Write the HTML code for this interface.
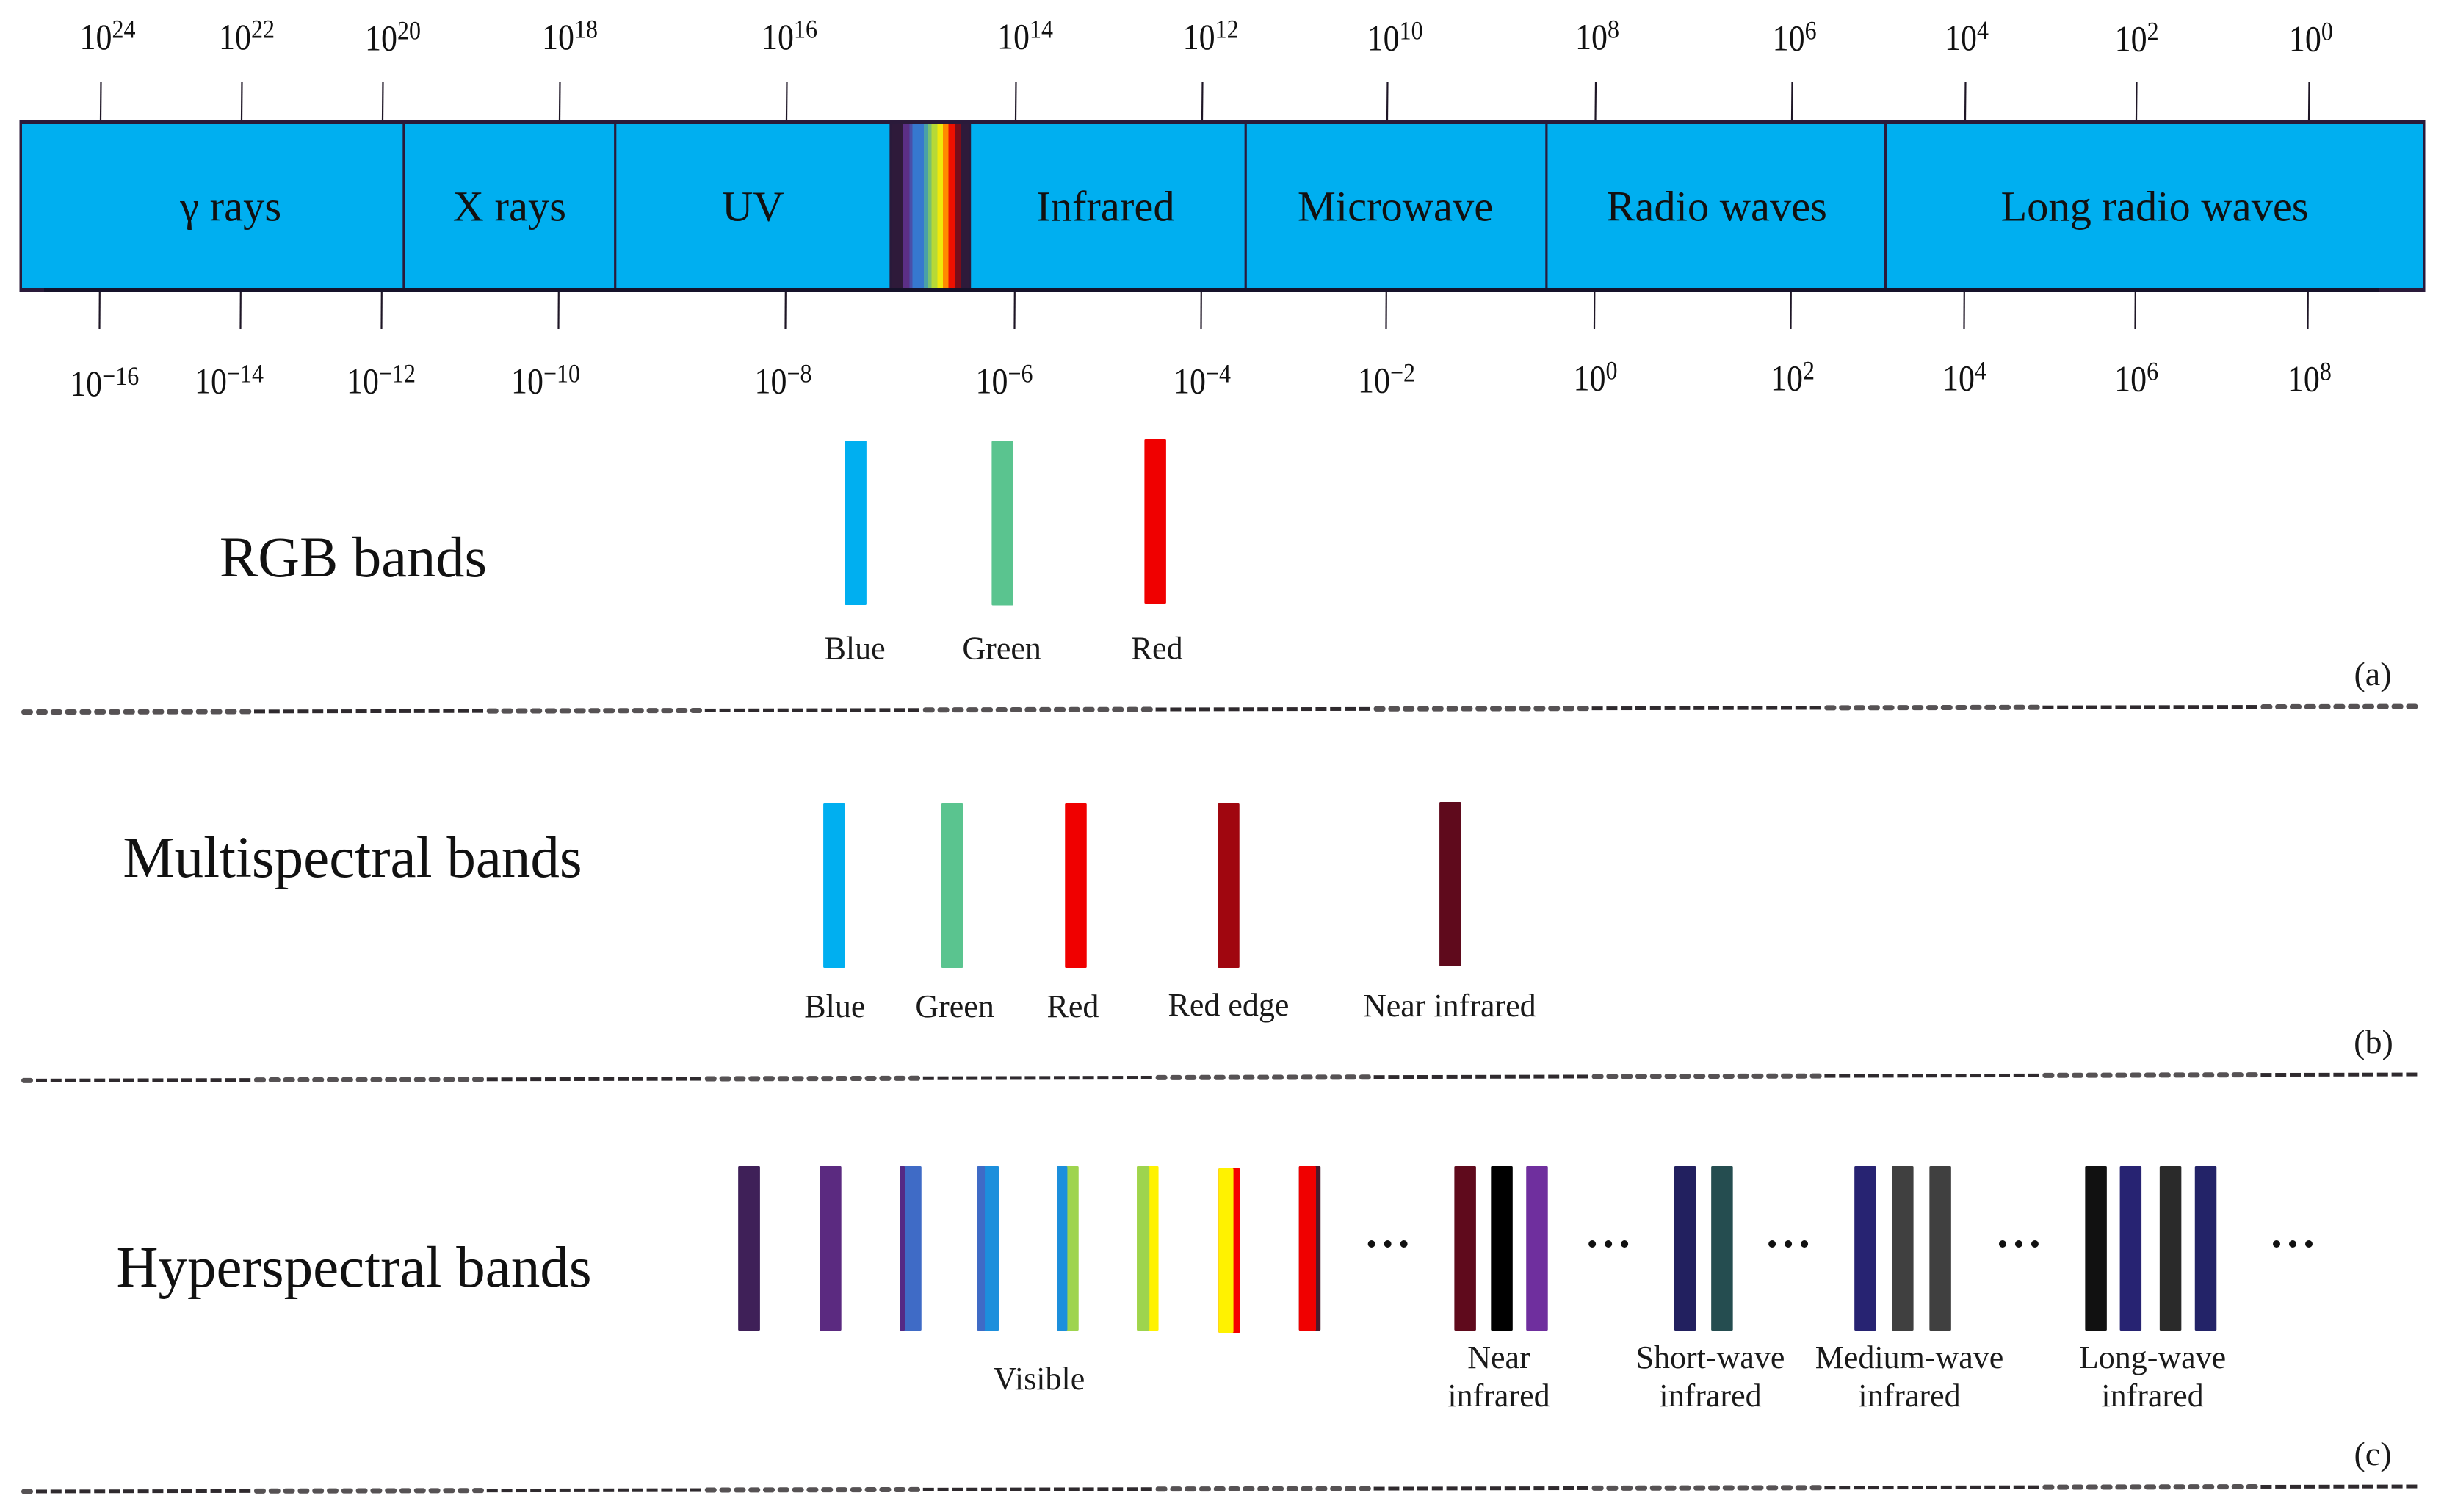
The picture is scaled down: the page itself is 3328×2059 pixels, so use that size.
<!DOCTYPE html>
<html lang="en">
<head>
<meta charset="utf-8">
<title>Electromagnetic spectrum and RGB, multispectral and hyperspectral bands</title>
<style>
  html, body { margin: 0; padding: 0; background: #fff; }
  body { width: 3328px; height: 2059px; overflow: hidden; }
  svg { display: block; }
  text { font-family: "Liberation Serif", "Noto Serif CJK SC", serif; fill: #111; }
  .title { font-size: 78.5px; text-anchor: middle; }
  .band-label { font-size: 44px; text-anchor: middle; fill: #1a1a1a; }
  .panel-tag { font-size: 46px; text-anchor: middle; fill: #1a1a1a; }
</style>
</head>
<body>
<svg id="figure" xmlns="http://www.w3.org/2000/svg" width="3328" height="2059" viewBox="0 0 3328 2059">
  <defs>
    <linearGradient id="visible-spectrum" x1="0" y1="0" x2="1" y2="0">
      <stop offset="0" stop-color="#2e1a3a"/><stop offset="0.15" stop-color="#2e1a3a"/>
      <stop offset="0.15" stop-color="#5b2f86"/><stop offset="0.227" stop-color="#5b2f86"/>
      <stop offset="0.227" stop-color="#4a4fa8"/><stop offset="0.268" stop-color="#4a4fa8"/>
      <stop offset="0.268" stop-color="#3678cf"/><stop offset="0.414" stop-color="#3678cf"/>
      <stop offset="0.414" stop-color="#4aa0a8"/><stop offset="0.464" stop-color="#4aa0a8"/>
      <stop offset="0.464" stop-color="#79c070"/><stop offset="0.517" stop-color="#79c070"/>
      <stop offset="0.517" stop-color="#b7d936"/><stop offset="0.595" stop-color="#b7d936"/>
      <stop offset="0.595" stop-color="#f0e80c"/><stop offset="0.664" stop-color="#f0e80c"/>
      <stop offset="0.664" stop-color="#ff8a00"/><stop offset="0.738" stop-color="#ff8a00"/>
      <stop offset="0.738" stop-color="#ee1000"/><stop offset="0.829" stop-color="#ee1000"/>
      <stop offset="0.829" stop-color="#7a0d1a"/><stop offset="0.9" stop-color="#7a0d1a"/>
      <stop offset="0.9" stop-color="#2e1a3a"/><stop offset="1" stop-color="#2e1a3a"/>
    </linearGradient>
  </defs>

  <rect x="0" y="0" width="3328" height="2059" fill="#ffffff"/>

  <g id="spectrum-layer"></g>
  <g id="tick-layer"></g>
  <g id="band-layer"></g>
  <g id="divider-layer"></g>

  <text class="title" x="481" y="785">RGB bands</text>
  <text class="title" x="480" y="1194" font-size="79" style="font-size:79px">Multispectral bands</text>
  <text class="title" x="482" y="1752" style="font-size:79px">Hyperspectral bands</text>

  <text class="panel-tag" x="3231" y="933">(a)</text>
  <text class="panel-tag" x="3232" y="1434">(b)</text>
  <text class="panel-tag" x="3231" y="1995">(c)</text>

  <text class="band-label" x="1415" y="1892">Visible</text>
  <text class="band-label" x="2041" y="1863">Near</text>
  <text class="band-label" x="2041" y="1915">infrared</text>
  <text class="band-label" x="2329" y="1863">Short-wave</text>
  <text class="band-label" x="2329" y="1915">infrared</text>
  <text class="band-label" x="2600" y="1863">Medium-wave</text>
  <text class="band-label" x="2600" y="1915">infrared</text>
  <text class="band-label" x="2931" y="1863">Long-wave</text>
  <text class="band-label" x="2931" y="1915">infrared</text>
</svg>

<script>
/* ---------- data ---------- */
const regionNames = ['γ rays', 'X rays', 'UV', '', 'Infrared', 'Microwave', 'Radio waves', 'Long radio waves'];
/* region boundaries, as log10(frequency) */
const regionBoundaryExponents = [19.76, 17.51, 15.09, 14.40, 11.53, 8.47, 4.92];
const frequencyExponents = [24, 22, 20, 18, 16, 14, 12, 10, 8, 6, 4, 2, 0];
const wavelengthExponents = [-16, -14, -12, -10, -8, -6, -4, -2, 0, 2, 4, 6, 8];

/* band centres, in percent along the panel width */
const rgbBandNames = ['Blue', 'Green', 'Red'];
const rgbBandCenters = [35.01, 41.02, 47.27];
const multiBandNames = ['Blue', 'Green', 'Red', 'Red edge', 'Near infrared'];
const multiBandCenters = [34.13, 38.96, 44.02, 50.27, 59.34];

const visibleBandCenters = [30.65, 33.98, 37.26, 40.43, 43.69, 46.96, 50.30, 53.59];
const visibleBandMix = [1, 1, 0.23, 0.35, 0.48, 0.58, 0.69, 0.79];
const nearInfraredCenters = [59.95, 61.45, 62.89];
const shortWaveCenters = [68.95, 70.46];
const mediumWaveCenters = [76.32, 77.85, 79.39];
const longWaveCenters = [85.76, 87.18, 88.81, 90.25];
const ellipsisCenters = [56.78, 65.81, 73.17, 82.60, 93.81];

/* ---------- scales and layout ---------- */
const W = 3328;
const NS = 'http://www.w3.org/2000/svg';
/* non-uniform spectrum axis: log10(frequency) -> x */
const axisDomain = [24, 22, 20, 18, 16, 14, 12, 10, 8, 6, 4, 2, 0];
const axisRange = [137, 329, 521, 762, 1071, 1383, 1637, 1889, 2172.5, 2440, 2676, 2909, 3144];
function spectrumX(exp) {
  for (let i = 0; i < axisDomain.length - 1; i++) {
    if (exp <= axisDomain[i] && exp >= axisDomain[i + 1]) {
      const t = (axisDomain[i] - exp) / (axisDomain[i] - axisDomain[i + 1]);
      return axisRange[i] + t * (axisRange[i + 1] - axisRange[i]);
    }
  }
  return exp > axisDomain[0] ? axisRange[0] : axisRange[axisRange.length - 1];
}
/* frequency x wavelength = c, so wavelength ticks share the axis */
function wavelengthX(exp) { return spectrumX(8 - exp) - 1.5; }
function bandX(pct) { return pct / 100 * W; }

/* hand-placement nudges of the printed labels */
const freqLabelDx = [9.5, 7, 14, 14, 4, 13, 11.6, 10.6, 2.5, 3.6, 2, 0.6, 2.9];
const freqLabelY = [66.8, 66.8, 68.6, 66.8, 66.8, 66.4, 66.8, 68.6, 66.8, 68.6, 68, 69.6, 69.6];
const waveLabelDx = [6.7, -15.5, -0.5, -17.5, -3, -14, 1.5, 0.5, 1.5, 2.5, 0.5, 1.6, 2.4];
const waveLabelY = [539, 535.7, 535.7, 535.7, 535.7, 535.7, 535.7, 534.6, 531.4, 531.4, 531.4, 532.5, 532.5];
const regionLabelDx = [25, 0, 0, -2, -3, -1, 1, 0];

const palette = {
  blue: '#00aff0', green: '#5ac48f', red: '#f00000', redEdge: '#a0060f', nir: '#5f0a1c',
  v1: '#3f2058', v2: '#5b2a80', v3: '#552a85', indigo: '#3f6bc6', sky: '#1c8fdc',
  lime: '#9ed44e', yellow: '#fff200', vivid: '#f50000', maroon: '#4a1a2c',
  black: '#000000', purple: '#6f2f9e', navy: '#22205f', teal: '#254d50',
  navy2: '#272372', gray: '#404040', ink: '#111111', charcoal: '#2a2a2a', navy3: '#232368'
};
const rgbColors = [palette.blue, palette.green, palette.red];
const multiColors = [palette.blue, palette.green, palette.red, palette.redEdge, palette.nir];
const visibleLeft = [palette.v1, palette.v2, palette.v3, palette.indigo, palette.sky, palette.lime, palette.yellow, palette.red];
const visibleRight = [palette.v1, palette.v2, palette.indigo, palette.sky, palette.lime, palette.yellow, palette.vivid, palette.maroon];
const nirColors = [palette.nir, palette.black, palette.purple];
const swirColors = [palette.navy, palette.teal];
const mwirColors = [palette.navy2, palette.gray, palette.gray];
const lwirColors = [palette.ink, palette.navy2, palette.charcoal, palette.navy3];

const BAR_W = 29.5, BAR_H = 224;
const RGB_TOP = 600, MULTI_TOP = 1094, HYPER_TOP = 1588;

function make(tag, attrs, parent) {
  const el = document.createElementNS(NS, tag);
  for (const k in attrs) el.setAttribute(k, attrs[k]);
  parent.appendChild(el);
  return el;
}

/* ---------- spectrum bar ---------- */
const specLayer = document.getElementById('spectrum-layer');
const barLeft = 30, barRight = 3299, barTop = 169, barBottom = 392;

const frame = make('rect', { x: 26.5, y: 163.6, width: 3276, height: 233.8, fill: '#2a1a3a' }, specLayer);



const bottomEdge = make('rect', { x: 60, y: 392, width: 3180, height: 5.4, fill: '#15122a' }, specLayer);



const edges = [barLeft].concat(regionBoundaryExponents.map(spectrumX), [barRight]);
regionNames.forEach(function (name, i) {
  const x0 = edges[i] + (i === 0 ? 0 : 1.6);
  const x1 = edges[i + 1] - (i === regionNames.length - 1 ? 0 : 1.6);
  const isVisible = name === '';
  const seg = make('rect', {
    x: x0, y: barTop, width: x1 - x0, height: barBottom - barTop,
    fill: isVisible ? 'url(#visible-spectrum)' : '#00aff0'
  }, specLayer);
  
  
  if (!isVisible) {
    const label = make('text', {
      x: (x0 + x1) / 2 + regionLabelDx[i], y: 300.5, 'text-anchor': 'middle', 'font-size': 58.5
    }, specLayer);
    label.textContent = name;
    
    
  }
});

/* ---------- ticks ---------- */
const tickLayer = document.getElementById('tick-layer');
function tickLabel(exp, cx, y) {
  const t = make('text', { transform: 'translate(' + cx + ' ' + y + ') scale(1 1.12)', 'text-anchor': 'middle', 'font-size': 44 }, tickLayer);
  const base = make('tspan', {}, t);
  base.textContent = '10';
  const sup = make('tspan', { 'font-size': 32, dy: -13.5 }, t);
  sup.textContent = String(exp).replace('-', '\u2212');
  return t;
}
frequencyExponents.forEach(function (exp, i) {
  const x = spectrumX(exp);
  const tick = make('line', { x1: x + 0.5, y1: 111, x2: x, y2: 164, stroke: '#1e1626', 'stroke-width': 2.2 }, tickLayer);
  
  
  const label = tickLabel(exp, x + freqLabelDx[i], freqLabelY[i]);
  
  
});
wavelengthExponents.forEach(function (exp, i) {
  const x = wavelengthX(exp);
  const tick = make('line', { x1: x + 0.3, y1: 397, x2: x, y2: 448, stroke: '#1e1626', 'stroke-width': 2.2 }, tickLayer);
  
  
  const label = tickLabel(exp, x + waveLabelDx[i], waveLabelY[i]);
  
  
});

/* ---------- bands ---------- */
const bandLayer = document.getElementById('band-layer');
function solidBand(center, top, color) {
  return make('rect', { x: bandX(center) - BAR_W / 2, y: top, width: BAR_W, height: BAR_H, rx: 1.5, fill: color }, bandLayer);
}

const rgbTopShift = [0, 0.5, -2];
const rgbLabelDx = [-1, -1, 2];
rgbBandCenters.forEach(function (c, i) {
  const bar = solidBand(c, RGB_TOP + rgbTopShift[i], rgbColors[i]);
  
  
  const label = make('text', { class: 'band-label', x: bandX(c) + rgbLabelDx[i], y: 897.5 }, bandLayer);
  label.textContent = rgbBandNames[i];
  
  
});

const multiTopShift = [0, 0, 0, 0, -2];
const multiLabelDx = [1, 3.5, -4, 0, -1];
const multiLabelY = [1385, 1385, 1385, 1383, 1384];
multiBandCenters.forEach(function (c, i) {
  const bar = solidBand(c, MULTI_TOP + multiTopShift[i], multiColors[i]);
  
  
  const label = make('text', { class: 'band-label', x: bandX(c) + multiLabelDx[i], y: multiLabelY[i] }, bandLayer);
  label.textContent = multiBandNames[i];
  
  
});

const visibleTopShift = [0, 0, 0, 0, 0, 0, 3, 0];
visibleBandCenters.forEach(function (c, i) {
  const top = HYPER_TOP + visibleTopShift[i];
  const bar = solidBand(c, top, visibleRight[i]);
  
  
  const part = make('rect', {
    x: bandX(c) - BAR_W / 2, y: top, width: BAR_W * visibleBandMix[i], height: BAR_H, rx: 1.5, fill: visibleLeft[i]
  }, bandLayer);
  
  
});
nearInfraredCenters.forEach(function (c, i) {
  const bar = solidBand(c, HYPER_TOP, nirColors[i]);
  
  
});
shortWaveCenters.forEach(function (c, i) {
  const bar = solidBand(c, HYPER_TOP, swirColors[i]);
  
  
});
mediumWaveCenters.forEach(function (c, i) {
  const bar = solidBand(c, HYPER_TOP, mwirColors[i]);
  
  
});
longWaveCenters.forEach(function (c, i) {
  const bar = solidBand(c, HYPER_TOP, lwirColors[i]);
  
  
});
ellipsisCenters.forEach(function (c) {
  [-22, 0, 22].forEach(function (dx) {
    const dot = make('circle', { cx: bandX(c) + dx, cy: 1694, r: 5, fill: '#111' }, bandLayer);
    
    
  });
});

/* ---------- dashed dividers ---------- */
const dividerLayer = document.getElementById('divider-layer');
function drawDivider(yLeft, yRight, firstRounded) {
  const yAt = function (x) { return yLeft + (yRight - yLeft) * (x - 29) / (3300 - 29); };
  const blob = make('rect', { x: 29, y: yAt(29) - 3.5, width: 16, height: 7, rx: 3.5, fill: '#565254' }, dividerLayer);
  
  
  for (let x = 49; x < 3285; x += 19.8) {
    const k = Math.floor((x - 344) / 303);
    const odd = Math.abs(k) % 2 === 1;
    const rounded = firstRounded ? odd : !odd;
    const h = rounded ? 7 : 5;
    const dash = make('rect', {
      x: x, y: yAt(x) - h / 2, width: rounded ? 16 : 15, height: h, rx: rounded ? 3.2 : 0,
      fill: rounded ? '#565254' : '#2f2a2e'
    }, dividerLayer);
    
    
  }
}
drawDivider(969.6, 962, true);
drawDivider(1471.4, 1463, false);
drawDivider(2031, 2024, false);
</script>
</body>
</html>
